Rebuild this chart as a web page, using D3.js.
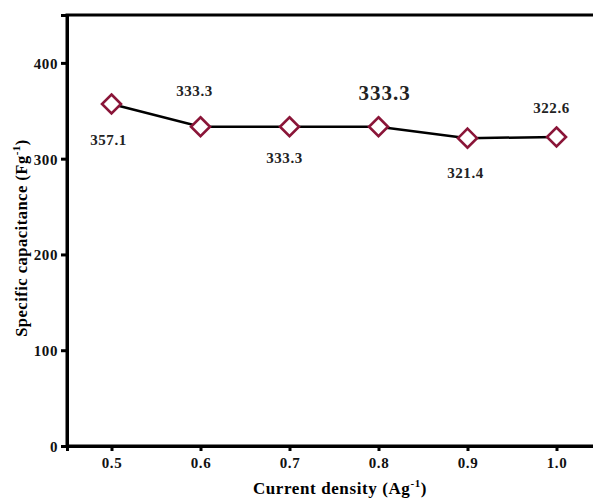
<!DOCTYPE html>
<html>
<head>
<meta charset="utf-8">
<script src="https://cdn.jsdelivr.net/npm/d3@7"></script>
<style>
  body { margin: 0; background: #fff; }
  svg { display: block; }
  text { font-family: "Liberation Serif", "Times New Roman", serif; font-weight: bold; }
  .tick text { font-size: 15px; letter-spacing: 0.6px; }
</style>
</head>
<body>
<div class="chart"></div>
<script>
// data
var currents = [0.5, 0.6, 0.7, 0.8, 0.9, 1.0];
var capacitance = [357.1, 333.3, 333.3, 333.3, 321.4, 322.6];
var xTicks = [0.5, 0.6, 0.7, 0.8, 0.9, 1.0];
var yTicks = [0, 100, 200, 300, 400];

// label layout (offsets from each marker, font size)
var labelDx = [-3, -6, -5, 6, -2, -5];
var labelDy = [41, -31, 36, -27, 40, -24];
var labelSize = [15, 15, 15, 21, 15, 15];

var width = 593, height = 499;
var margin = {top: 15, left: 67, bottom: 446};

var svg = d3.select(".chart").append("svg")
    .attr("width", width)
    .attr("height", height);

var x = d3.scaleLinear().domain([0.45, 1.05]).range([margin.left, 601]);
var y = d3.scaleLinear().domain([0, 450]).range([margin.bottom, margin.top]);

// frame (right side runs off the image)
svg.append("rect")
    .attr("x", x(0.45)).attr("y", y(450))
    .attr("width", x(1.05) - x(0.45)).attr("height", y(0) - y(450))
    .attr("fill", "none").attr("stroke", "#000").attr("stroke-width", 3);

var xAxis = svg.append("g")
    .attr("transform", "translate(0," + y(0) + ")")
    .call(d3.axisBottom(x).tickValues(xTicks).tickFormat(d3.format(".1f")).tickSize(5).tickPadding(6));
var yAxis = svg.append("g")
    .attr("transform", "translate(" + x(0.45) + ",0)")
    .call(d3.axisLeft(y).tickValues(yTicks).tickSize(6).tickPadding(3));

[xAxis, yAxis].forEach(function(g){
    g.select(".domain").attr("stroke-width", 3);
    g.selectAll(".tick line").attr("stroke-width", 3);
    g.selectAll(".tick text").attr("fill", "#111");
});
yAxis.selectAll(".tick text").attr("dy", "0.36em");

// line
var line = d3.line()
    .x(function(d, i){ return x(currents[i]); })
    .y(function(d){ return y(d); });

svg.append("path")
    .datum(capacitance)
    .attr("d", line)
    .attr("fill", "none")
    .attr("stroke", "#000")
    .attr("stroke-width", 2.5);

// diamond markers
svg.append("g").selectAll("path")
    .data(capacitance)
    .join("path")
    .attr("transform", function(d, i){ return "translate(" + x(currents[i]) + "," + y(d) + ")"; })
    .attr("d", "M0,-9.5L9.5,0L0,9.5L-9.5,0Z")
    .attr("fill", "#fff")
    .attr("stroke", "#8a1538")
    .attr("stroke-width", 2.6);

// value labels
svg.append("g").selectAll("text")
    .data(capacitance)
    .join("text")
    .attr("x", function(d, i){ return x(currents[i]) + labelDx[i]; })
    .attr("y", function(d, i){ return y(d) + labelDy[i]; })
    .attr("text-anchor", "middle")
    .attr("font-size", function(d, i){ return labelSize[i]; })
    .attr("letter-spacing", function(d, i){ return labelSize[i] > 15 ? 1 : 0.6; })
    .attr("fill", "#222")
    .text(function(d){ return d.toFixed(1); });

// axis titles
var xt = svg.append("text")
    .attr("x", 340).attr("y", 494)
    .attr("text-anchor", "middle")
    .attr("font-size", 17).attr("letter-spacing", 0.6);
xt.append("tspan").text("Current density (Ag");
xt.append("tspan").attr("dy", -7).attr("font-size", 11).text("-1");
xt.append("tspan").attr("dy", 7).text(")");

var yt = svg.append("text")
    .attr("transform", "translate(27,238) rotate(-90)")
    .attr("text-anchor", "middle")
    .attr("font-size", 16.5).attr("letter-spacing", 0.5);
yt.append("tspan").text("Specific capacitance (Fg");
yt.append("tspan").attr("dy", -7).attr("font-size", 11).text("-1");
yt.append("tspan").attr("dy", 7).text(")");
</script>
</body>
</html>
